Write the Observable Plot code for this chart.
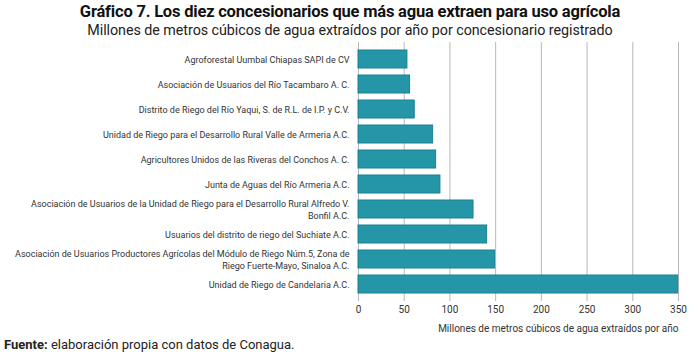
<!DOCTYPE html>
<html>
<head>
<meta charset="utf-8">
<script src="https://cdn.jsdelivr.net/npm/d3@7"></script>
<script src="https://cdn.jsdelivr.net/npm/@observablehq/plot@0.6"></script>
<style>
  html, body { margin: 0; padding: 0; background: #fff; }
  body { width: 700px; height: 355px; overflow: hidden; font-family: Roboto, sans-serif; }
  #title { text-align: center; font-family: Roboto, sans-serif; font-weight: 700; font-size: 16.5px; line-height: 20px; margin-top: 2px; color: #111; letter-spacing: -0.2px; }
  #subtitle { text-align: center; font-family: Roboto, sans-serif; font-size: 14.3px; line-height: 17px; color: #222; letter-spacing: -0.05px; }
  #chart { height: 297px; }
  #footer { font-family: Roboto, sans-serif; font-size: 13px; color: #222; margin-left: 4px; margin-top: 1px; }
  #footer b { font-weight: 700; }
</style>
</head>
<body>
<div id="title">Gráfico 7. Los diez concesionarios que más agua extraen para uso agrícola</div>
<div id="subtitle">Millones de metros cúbicos de agua extraídos por año por concesionario registrado</div>
<div id="chart"></div>
<div id="footer"><b>Fuente:</b> elaboración propia con datos de Conagua.</div>
<script>
const concesionarios = [
  "Agroforestal Uumbal Chiapas SAPI de CV",
  "Asociación de Usuarios del Río Tacambaro A. C.",
  "Distrito de Riego del Río Yaqui, S. de R.L. de I.P. y C.V.",
  "Unidad de Riego para el Desarrollo Rural Valle de Armeria A.C.",
  "Agricultores Unidos de las Riveras del Conchos A. C.",
  "Junta de Aguas del Río Armeria A.C.",
  "Asociación de Usuarios de la Unidad de Riego para el Desarrollo Rural Alfredo V. Bonfil A.C.",
  "Usuarios del distrito de riego del Suchiate A.C.",
  "Asociación de Usuarios Productores Agrícolas del Módulo de Riego Núm.5, Zona de Riego Fuerte-Mayo, Sinaloa A.C.",
  "Unidad de Riego de Candelaria A.C."
];
// tick labels as shown (with line breaks)
const etiquetas = [
  "Agroforestal Uumbal Chiapas SAPI de CV",
  "Asociación de Usuarios del Río Tacambaro A. C.",
  "Distrito de Riego del Río Yaqui, S. de R.L. de I.P. y C.V.",
  "Unidad de Riego para el Desarrollo Rural Valle de Armeria A.C.",
  "Agricultores Unidos de las Riveras del Conchos A. C.",
  "Junta de Aguas del Río Armeria A.C.",
  "Asociación de Usuarios de la Unidad de Riego para el Desarrollo Rural Alfredo V.\nBonfil A.C.",
  "Usuarios del distrito de riego del Suchiate A.C.",
  "Asociación de Usuarios Productores Agrícolas del Módulo de Riego Núm.5, Zona de\nRiego Fuerte-Mayo, Sinaloa A.C.",
  "Unidad de Riego de Candelaria A.C."
];
const volumen = [53.5, 56.4, 61.5, 81.6, 84.9, 89.6, 125.8, 140.7, 149.5, 349.6];
const xTicks = [0, 50, 100, 150, 200, 250, 300, 350];
const xLabel = "Millones de metros cúbicos de agua extraídos por año";

const data = concesionarios.map((c, i) => ({c, v: volumen[i]}));
const labelOf = new Map(concesionarios.map((c, i) => [c, etiquetas[i]]));

const chart = Plot.plot({
  width: 700,
  height: 297,
  marginTop: 3,
  marginBottom: 35,
  marginLeft: 358,
  marginRight: 22,
  style: {fontFamily: "Roboto, sans-serif", fontSize: "9px", color: "#333"},
  x: {domain: [0, 350], ticks: xTicks},
  y: {domain: concesionarios, padding: 0.3},
  marks: [
    Plot.ruleX(xTicks, {stroke: "#b8b8b8", strokeOpacity: 1, strokeWidth: 1}),
    Plot.barX(data, {x: "v", y: "c", fill: "#2596a8", stroke: "#1c8092", strokeWidth: 1}),
    Plot.axisX({ticks: xTicks, tickSize: 0, tickPadding: 4, fontSize: "10px", label: null}),
    Plot.text([xLabel], {frameAnchor: "bottom-right", dy: 30, fontSize: "10px", fill: "#333", text: d => d}),
    Plot.axisY({tickSize: 0, tickPadding: 9, tickFormat: d => labelOf.get(d), label: null, fontSize: "9px", lineHeight: 1.25})
  ]
});
document.getElementById("chart").appendChild(chart);
</script>
</body>
</html>
